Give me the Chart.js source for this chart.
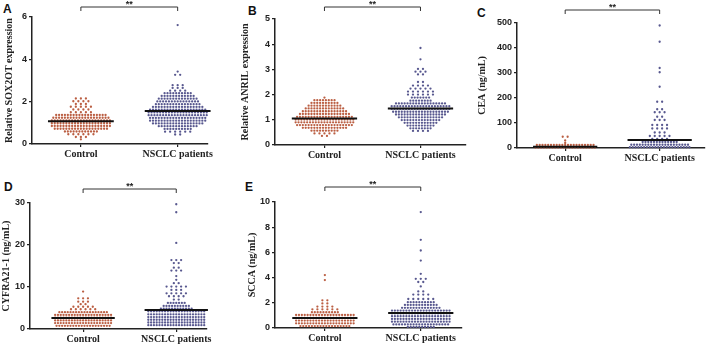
<!DOCTYPE html>
<html>
<head>
<meta charset="utf-8">
<script src="https://cdn.jsdelivr.net/npm/chart.js@4.4.1/dist/chart.umd.min.js"></script>
<style>
body { margin: 0; background: #fff; width: 709px; height: 344px; position: relative; overflow: hidden; }
canvas { position: absolute; }
.letter { position: absolute; font: bold 12px "Liberation Sans", Arial, sans-serif; line-height: 12px; color: #111; }
</style>
</head>
<body>
<div class="letter" style="left:3px;top:3px">A</div>
<div class="letter" style="left:248px;top:5px">B</div>
<div class="letter" style="left:477px;top:7px">C</div>
<div class="letter" style="left:4px;top:181px">D</div>
<div class="letter" style="left:245px;top:181px">E</div>

<canvas id="panelA" width="215" height="170" style="left:0;top:0"></canvas>
<canvas id="panelB" width="235" height="170" style="left:235px;top:0"></canvas>
<canvas id="panelC" width="239" height="170" style="left:470px;top:0"></canvas>
<canvas id="panelD" width="215" height="174" style="left:0;top:170px"></canvas>
<canvas id="panelE" width="235" height="174" style="left:235px;top:170px"></canvas>

<script>
const categories = ['Control', 'NSCLC patients'];

// A - SOX2OT: dot rows (value of row, number of dots in that row)
const sox2otControlLevels = [2.15, 2.02, 1.89, 1.76, 1.63, 1.5, 1.37, 1.24, 1.11, 0.98, 0.85, 0.72, 0.59, 0.46, 0.33, 0.22];
const sox2otControlCounts = [3, 4, 3, 5, 4, 5, 18, 20, 21, 21, 21, 19, 12, 6, 3, 1];
const sox2otPatientLevels = [5.62, 3.42, 3.27, 2.78, 2.65, 2.52, 2.4, 2.27, 2.14, 2.01, 1.88, 1.75, 1.62, 1.49, 1.36, 1.23, 1.1, 0.97, 0.84, 0.71, 0.58, 0.45];
const sox2otPatientCounts = [1, 1, 2, 3, 3, 4, 10, 12, 14, 15, 16, 18, 20, 21, 21, 20, 20, 18, 14, 10, 6, 2];
const sox2otMeans = [1.07, 1.56];
const sox2otTicks = [0, 2, 4, 6];

// B - ANRIL
const anrilControlLevels = [1.88, 1.78, 1.67, 1.56, 1.45, 1.34, 1.23, 1.12, 1.01, 0.9, 0.79, 0.68, 0.57, 0.46, 0.36];
const anrilControlCounts = [1, 8, 10, 12, 14, 16, 18, 20, 21, 21, 20, 16, 10, 5, 2];
const anrilPatientLevels = [3.85, 3.4, 3.02, 2.91, 2.8, 2.5, 2.36, 2.24, 2.12, 2.0, 1.88, 1.76, 1.65, 1.54, 1.43, 1.32, 1.21, 1.1, 0.99, 0.88, 0.77, 0.66, 0.56];
const anrilPatientCounts = [1, 1, 2, 3, 2, 2, 4, 5, 6, 6, 7, 8, 18, 21, 21, 20, 18, 16, 14, 12, 10, 8, 4];
const anrilMeans = [1.05, 1.45];
const anrilTicks = [0, 1, 2, 3, 4, 5];

// C - CEA (ng/mL)
const ceaControlLevels = [45, 30, 20, 12, 2];
const ceaControlCounts = [2, 1, 1, 21, 22];
const ceaPatientLevels = [490, 425, 320, 303, 245, 185, 155, 143, 125, 112, 92, 78, 62, 48, 36, 24, 13, 3];
const ceaPatientCounts = [1, 1, 1, 1, 1, 2, 2, 3, 2, 3, 4, 4, 3, 5, 4, 13, 21, 22];
const ceaMeans = [5, 32];
const ceaTicks = [0, 100, 200, 300, 400, 500];

// D - CYFRA21-1 (ng/mL)
const cyfraControlLevels = [8.9, 7.3, 6.5, 5.9, 5.3, 4.7, 4.0, 3.35, 2.7, 2.05, 1.4, 0.75];
const cyfraControlCounts = [1, 3, 3, 2, 5, 6, 18, 21, 21, 21, 21, 20];
const cyfraPatientLevels = [29.7, 27.8, 20.5, 16.4, 15.7, 14.6, 13.9, 12.6, 11.7, 10.9, 10.1, 9.3, 8.5, 7.8, 7.0, 6.2, 5.5, 4.85, 4.2, 3.5, 2.85, 2.2, 1.55, 0.9];
const cyfraPatientCounts = [1, 1, 1, 3, 2, 2, 3, 1, 1, 2, 5, 3, 5, 4, 2, 7, 10, 12, 21, 21, 21, 21, 21, 21];
const cyfraMeans = [2.6, 4.5];
const cyfraTicks = [0, 10, 20, 30];

// E - SCCA (ng/mL)
const sccaControlLevels = [4.2, 3.8, 2.2, 1.95, 1.7, 1.48, 1.25, 1.03, 0.81, 0.59, 0.37, 0.15];
const sccaControlCounts = [1, 1, 2, 2, 4, 6, 10, 21, 21, 21, 21, 18];
const sccaPatientLevels = [9.2, 7.0, 6.15, 5.35, 4.3, 3.9, 3.65, 3.3, 2.9, 2.65, 2.3, 2.05, 1.83, 1.6, 1.38, 1.16, 0.94, 0.72, 0.5, 0.28, 0.08];
const sccaPatientCounts = [1, 1, 1, 1, 1, 3, 2, 1, 2, 4, 6, 10, 12, 14, 21, 21, 21, 21, 21, 20, 10];
const sccaMeans = [0.8, 1.2];
const sccaTicks = [0, 2, 4, 6, 8, 10];

const CONTROL_COLOR = '#bb5f43';
const PATIENT_COLOR = '#58588f';
const DOT_STEP = 0.03;       // horizontal spacing of dots in a row (x units)
const SPARSE_STEP = 0.052;   // rows with few dots are spread wider
const MEAN_HALF = 0.34;      // half width of the mean line (x units)

// spread each row of dots symmetrically around the category position
function swarm(levels, counts, center) {
    const pts = [];
    levels.forEach((v, i) => {
        const n = counts[i];
        const step = n <= 6 ? SPARSE_STEP : DOT_STEP;
        for (let j = 0; j < n; j++) {
            pts.push({ x: center + (j - (n - 1) / 2) * step, y: v });
        }
    });
    return pts;
}

const bracketPlugin = {
    id: 'bracket',
    afterDraw(chart, args, opts) {
        const { ctx, chartArea, scales } = chart;
        const x1 = scales.x.getPixelForValue(1);
        const x2 = scales.x.getPixelForValue(2);
        const y = chartArea.top - opts.gap;
        ctx.save();
        ctx.strokeStyle = '#333';
        ctx.lineWidth = 1;
        ctx.beginPath();
        ctx.moveTo(x1, y + 4);
        ctx.lineTo(x1, y);
        ctx.lineTo(x2, y);
        ctx.lineTo(x2, y + 4);
        ctx.stroke();
        ctx.fillStyle = '#222';
        ctx.font = 'bold 9px "Liberation Sans", Arial, sans-serif';
        ctx.textAlign = 'center';
        ctx.textBaseline = 'alphabetic';
        ctx.fillText('**', (x1 + x2) / 2, y);
        ctx.restore();
    }
};

function makePanel(canvasId, p) {
    const ctx = document.getElementById(canvasId).getContext('2d');
    return new Chart(ctx, {
        type: 'scatter',
        data: {
            datasets: [
                {
                    type: 'line',
                    data: [{ x: 1 - MEAN_HALF, y: p.means[0] }, { x: 1 + MEAN_HALF, y: p.means[0] }],
                    borderColor: '#111', borderWidth: 2, pointRadius: 0, order: 0, clip: false
                },
                {
                    type: 'line',
                    data: [{ x: 2 - MEAN_HALF, y: p.means[1] }, { x: 2 + MEAN_HALF, y: p.means[1] }],
                    borderColor: '#111', borderWidth: 2, pointRadius: 0, order: 0, clip: false
                },
                {
                    label: categories[0],
                    data: swarm(p.control[0], p.control[1], 1),
                    backgroundColor: CONTROL_COLOR, borderWidth: 0, pointRadius: 1.15, order: 1, clip: false
                },
                {
                    label: categories[1],
                    data: swarm(p.patient[0], p.patient[1], 2),
                    backgroundColor: PATIENT_COLOR, borderWidth: 0, pointRadius: 1.15, order: 1, clip: false
                }
            ]
        },
        options: {
            responsive: false,
            animation: false,
            layout: { padding: { top: p.padTop, right: p.padRight, left: 0, bottom: 0 } },
            plugins: {
                legend: { display: false },
                tooltip: { enabled: false },
                bracket: { gap: p.bracketGap }
            },
            scales: {
                x: {
                    type: 'linear',
                    min: p.xRange[0], max: p.xRange[1],
                    afterBuildTicks: (s) => { s.ticks = [{ value: 1 }, { value: 2 }]; },
                    afterFit: (s) => { s.height = p.xHeight; },
                    ticks: {
                        callback: (v) => categories[v - 1],
                        font: { family: '"Liberation Serif", "Times New Roman", serif', size: 10, weight: 'bold' },
                        color: '#222', padding: 1, maxRotation: 0
                    },
                    grid: { drawOnChartArea: false, drawTicks: true, tickLength: 3, color: '#222', lineWidth: 1.2 },
                    border: { display: true, color: '#222', width: 1.5 }
                },
                y: {
                    min: p.ticks[0], max: p.ticks[p.ticks.length - 1],
                    afterBuildTicks: (s) => { s.ticks = p.ticks.map(v => ({ value: v })); },
                    afterFit: (s) => { s.width = p.yWidth; },
                    ticks: {
                        font: { family: '"Liberation Sans", Arial, sans-serif', size: 9, weight: 'bold' },
                        color: '#222', padding: 2
                    },
                    grid: { drawOnChartArea: false, drawTicks: true, tickLength: 3, color: '#222', lineWidth: 1.2 },
                    border: { display: true, color: '#222', width: 1.5 },
                    title: {
                        display: true, text: p.title, color: '#222',
                        font: { family: '"Liberation Serif", "Times New Roman", serif', size: 10, weight: 'bold' },
                        padding: { top: p.titlePad, bottom: 0 }
                    }
                }
            }
        },
        plugins: [bracketPlugin]
    });
}

makePanel('panelA', {
    control: [sox2otControlLevels, sox2otControlCounts], patient: [sox2otPatientLevels, sox2otPatientCounts],
    means: sox2otMeans, ticks: sox2otTicks, title: 'Relative SOX2OT expression',
    xRange: [0.495, 2.31], padTop: 17, padRight: 7, xHeight: 26, yWidth: 32, titlePad: 3, bracketGap: 10
});
makePanel('panelB', {
    control: [anrilControlLevels, anrilControlCounts], patient: [anrilPatientLevels, anrilPatientCounts],
    means: anrilMeans, ticks: anrilTicks, title: 'Relative ANRIL expression',
    xRange: [0.485, 2.474], padTop: 19, padRight: 2, xHeight: 25, yWidth: 40, titlePad: 4, bracketGap: 12
});
makePanel('panelC', {
    control: [ceaControlLevels, ceaControlCounts], patient: [ceaPatientLevels, ceaPatientCounts],
    means: ceaMeans, ticks: ceaTicks, title: 'CEA (ng/mL)',
    xRange: [0.49, 2.48], padTop: 23, padRight: 1, xHeight: 22, yWidth: 47, titlePad: 6, bracketGap: 13
});
makePanel('panelD', {
    control: [cyfraControlLevels, cyfraControlCounts], patient: [cyfraPatientLevels, cyfraPatientCounts],
    means: cyfraMeans, ticks: cyfraTicks, title: 'CYFRA21-1 (ng/mL)',
    xRange: [0.43, 2.33], padTop: 33, padRight: 8, xHeight: 15, yWidth: 30, titlePad: 0, bracketGap: 14
});
makePanel('panelE', {
    control: [sccaControlLevels, sccaControlCounts], patient: [sccaPatientLevels, sccaPatientCounts],
    means: sccaMeans, ticks: sccaTicks, title: 'SCCA (ng/mL)',
    xRange: [0.48, 2.43], padTop: 32, padRight: 8, xHeight: 16, yWidth: 40, titlePad: 11, bracketGap: 15
});
</script>
</body>
</html>
